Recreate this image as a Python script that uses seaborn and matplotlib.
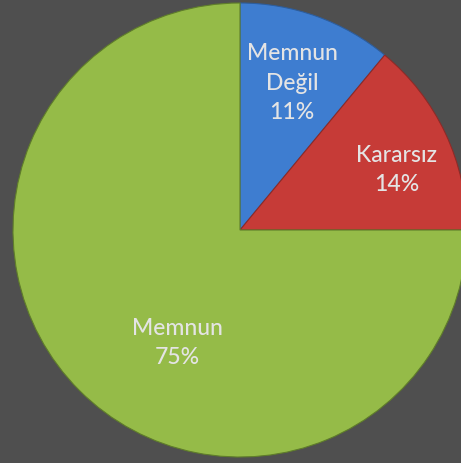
import matplotlib
matplotlib.use("Agg")
import matplotlib.pyplot as plt
import seaborn as sns

categories = ["Memnun\nDeğil", "Kararsız", "Memnun"]
values = [11, 14, 75]
colors = ["#3e7dd0", "#c63b37", "#95bb48"]

sns.set_theme(style="white")
plt.rcParams["font.family"] = ["Lato", "DejaVu Sans"]

fig = plt.figure(figsize=(4.61, 4.64), dpi=100)
fig.patch.set_facecolor("#4f4f4f")
ax = fig.add_axes([0, 0, 1, 1])
ax.set_facecolor("#4f4f4f")

H = 464
wedges, _ = ax.pie(values, colors=colors, startangle=90, counterclock=False,
                   center=(240, H - 231), radius=227,
                   wedgeprops=dict(linewidth=0.8))
for w, c in zip(wedges, ["#2d5d9c", "#8e2a27", "#5f7d2a"]):
    w.set_edgecolor(c)

ax.set_xlim(0, 461)
ax.set_ylim(0, H)
ax.set_aspect("equal")
ax.axis("off")

label_pos = [(292, 83), (397, 170), (177, 343)]
for cat, v, (x, y) in zip(categories, values, label_pos):
    ax.text(x, H - y, f"{cat}\n{v}%", ha="center", va="center", color="#e4e4e4",
            fontsize=16.5, fontweight="medium", linespacing=1.5)

fig.savefig("out.png", dpi=100, facecolor=fig.get_facecolor())
